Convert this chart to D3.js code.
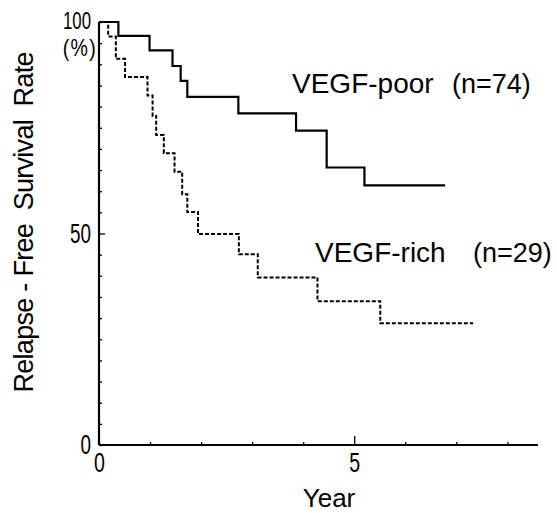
<!DOCTYPE html>
<html>
<head>
<meta charset="utf-8">
<script src="https://cdn.jsdelivr.net/npm/d3@7"></script>
<style>
html,body{margin:0;padding:0;background:#fff;}
svg{display:block;}
text{font-family:"Liberation Sans",Arial,sans-serif;fill:#000;}
</style>
</head>
<body>
<svg id="chart" width="557" height="513"></svg>
<script>
// Kaplan-Meier step data (time in years, survival in %)
const poorTimes = [0, 0.38, 0.99, 1.44, 1.60, 1.73, 2.73, 3.86, 4.46, 5.20, 6.78];
const poorSurv  = [100, 96.7, 93.3, 89.6, 86.1, 82.3, 78.4, 74.3, 65.6, 61.4, 61.4];
const richTimes = [0, 0.18, 0.33, 0.51, 0.95, 1.05, 1.12, 1.27, 1.48, 1.63, 1.73, 1.94, 2.74, 3.11, 4.28, 5.51, 7.33];
const richSurv  = [100, 96.6, 91.3, 87.0, 82.6, 77.8, 73.3, 69.0, 64.6, 59.3, 55.1, 49.9, 45.1, 39.6, 34.0, 28.8, 28.8];
const xTickValues = [0, 1, 2, 3, 4, 5, 6, 7, 8];
const xTickLabels = {0: "0", 5: "5"};
const yTickValues = d3.range(0, 101, 5);
const yTickLabels = {0: "0", 50: "50", 100: "100"};
const seriesLabels = ["VEGF-poor", "VEGF-rich"];
const seriesN = ["(n=74)", "(n=29)"];

const svg = d3.select("#chart");
const x = d3.scaleLinear().domain([0, 8.6]).range([99, 538]);
const y = d3.scaleLinear().domain([0, 100]).range([445, 22]);
const sx = 0.7;

// x axis
const gx = svg.append("g").attr("transform", `translate(0,${y(0)})`)
  .call(d3.axisBottom(x).tickValues(xTickValues).tickSizeInner(-3).tickSizeOuter(0).tickPadding(7)
    .tickFormat(d => xTickLabels[d] || ""));
gx.select(".domain").attr("stroke-width", 2.2).attr("d", `M${x(0)},0H${x(8.6)}`);
gx.selectAll(".tick line").attr("stroke-width", 1.3).attr("y2", d => d === 5 ? -9 : -3);
gx.selectAll(".tick text").attr("font-size", 28).attr("transform", `scale(${sx},1)`);

// y axis
const gy = svg.append("g").attr("transform", `translate(${x(0)},0)`)
  .call(d3.axisLeft(y).tickValues(yTickValues).tickSizeInner(-3).tickSizeOuter(0).tickPadding(8)
    .tickFormat(d => yTickLabels[d] || ""));
gy.select(".domain").attr("stroke-width", 2.2).attr("d", `M0,${y(0)}V${y(100)}`);
gy.selectAll(".tick line").attr("stroke-width", 1.3).attr("x2", d => d === 50 ? 6 : 3);
gy.selectAll(".tick text")
  .attr("font-size", d => d === 100 ? 24 : 27)
  .attr("dy", d => d === 100 ? "0.26em" : "0.32em")
  .attr("x", -8 / sx)
  .attr("transform", `scale(${sx},1)`);

// (%) label
svg.append("text").attr("transform", "translate(97,56) scale(0.85,1)").attr("text-anchor", "end")
  .attr("font-size", 23).attr("letter-spacing", 1.5).text("(%)");

// step lines
const line = d3.line().x(d => x(d[0])).y(d => y(d[1])).curve(d3.curveStepAfter);
const poor = poorTimes.map((t, i) => [t, poorSurv[i]]);
const rich = richTimes.map((t, i) => [t, richSurv[i]]);
svg.append("path").datum(rich).attr("d", line).attr("fill", "none")
  .attr("stroke", "#000").attr("stroke-width", 2).attr("stroke-dasharray", "4,2");
svg.append("path").datum(poor).attr("d", line).attr("fill", "none")
  .attr("stroke", "#000").attr("stroke-width", 2.2);

// series labels
svg.append("text").attr("x", 292).attr("y", 93).attr("font-size", 28).text(seriesLabels[0]);
svg.append("text").attr("x", 452).attr("y", 93).attr("font-size", 27).text(seriesN[0]);
svg.append("text").attr("x", 315).attr("y", 262).attr("font-size", 28).text(seriesLabels[1]);
svg.append("text").attr("x", 473).attr("y", 262).attr("font-size", 27).text(seriesN[1]);

// axis titles
svg.append("text").attr("x", 329).attr("y", 507).attr("text-anchor", "middle")
  .attr("font-size", 26).text("Year");
svg.append("text").attr("transform", "translate(33,222) rotate(-90)").attr("text-anchor", "middle")
  .attr("font-size", 27).style("white-space", "pre")
  .attr("textLength", 341).attr("lengthAdjust", "spacing")
  .text("Relapse - Free  Survival  Rate");
</script>
</body>
</html>
